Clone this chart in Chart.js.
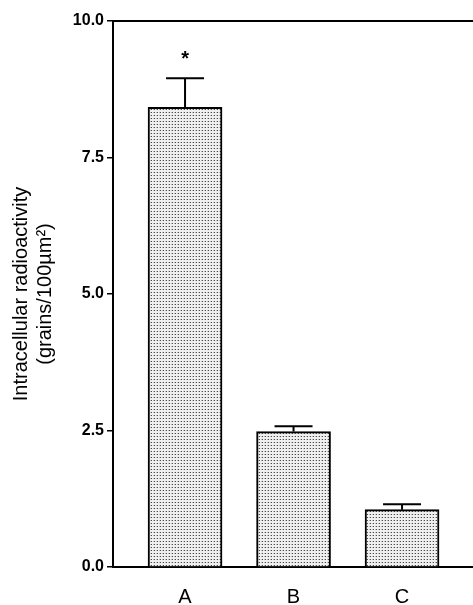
<!DOCTYPE html>
<html>
<head>
<meta charset="utf-8">
<script src="https://cdn.jsdelivr.net/npm/chart.js@4.4.1/dist/chart.umd.min.js"></script>
<style>
html,body{margin:0;padding:0;background:#fff;}
canvas{display:block;}
</style>
</head>
<body>
<canvas id="c" width="473" height="605"></canvas>
<script>
const categories = ['A', 'B', 'C'];
const values = [8.42, 2.48, 1.05];
const errors = [0.53, 0.10, 0.10];
const significance = ['*', '', ''];
const yTicks = [0, 2.5, 5, 7.5, 10];

function makePattern() {
  const p = document.createElement('canvas');
  p.width = 3; p.height = 3;
  const g = p.getContext('2d');
  g.fillStyle = '#efefef';
  g.fillRect(0, 0, 3, 3);
  g.fillStyle = '#4a4a4a';
  g.fillRect(1, 1, 1, 1);
  g.fillStyle = '#bdbdbd';
  g.fillRect(0, 1, 1, 1);
  return document.getElementById('c').getContext('2d').createPattern(p, 'repeat');
}

const errorBarPlugin = {
  id: 'errorBars',
  afterDatasetsDraw(chart) {
    const ctx = chart.ctx;
    const meta = chart.getDatasetMeta(0);
    const ys = chart.scales.y;
    ctx.save();
    ctx.strokeStyle = '#000';
    ctx.lineWidth = 2;
    meta.data.forEach((bar, i) => {
      const x = bar.x;
      const yTop = ys.getPixelForValue(values[i]);
      const yErr = ys.getPixelForValue(values[i] + errors[i]);
      ctx.beginPath();
      ctx.moveTo(x, yTop);
      ctx.lineTo(x, yErr);
      ctx.moveTo(x - 19, yErr);
      ctx.lineTo(x + 19, yErr);
      ctx.stroke();
      if (significance[i]) {
        ctx.fillStyle = '#000';
        ctx.font = 'bold 20px "Liberation Sans", Arial, sans-serif';
        ctx.textAlign = 'center';
        ctx.textBaseline = 'middle';
        ctx.fillText(significance[i], x, yErr - 19);
      }
    });
    const a = chart.chartArea;
    ctx.beginPath();
    ctx.lineWidth = 2;
    ctx.moveTo(a.left, a.top);
    ctx.lineTo(a.right, a.top);
    ctx.stroke();
    ctx.restore();
  }
};

new Chart(document.getElementById('c'), {
  type: 'bar',
  data: {
    datasets: [{
      data: categories.map((c, i) => ({ x: i + 1, y: values[i] })),
      backgroundColor: makePattern(),
      borderColor: '#000',
      borderWidth: 2,
      barThickness: 74
    }]
  },
  options: {
    responsive: false,
    animation: false,
    layout: { padding: { top: 21, right: 0, left: 0, bottom: 0 } },
    plugins: { legend: { display: false }, tooltip: { enabled: false } },
    scales: {
      x: {
        type: 'linear',
        offset: false,
        min: 0.336,
        max: 3.654,
        afterBuildTicks(s) { s.ticks = categories.map((c, i) => ({ value: i + 1 })); },
        afterFit(s) { s.height = 38; },
        grid: { display: false, drawTicks: false },
        border: { display: true, color: '#000', width: 2 },
        ticks: {
          padding: 18,
          color: '#000',
          font: { family: '"Liberation Sans", Arial, sans-serif', size: 20 },
          callback: (v) => categories[Math.round(v) - 1] || ''
        }
      },
      y: {
        min: 0,
        max: 10,
        afterBuildTicks(s) { s.ticks = yTicks.map(v => ({ value: v })); },
        afterFit(s) { s.width = 113; },
        grid: { drawOnChartArea: false, drawTicks: true, tickLength: 6, color: '#000', lineWidth: 1.5 },
        border: { display: true, color: '#000', width: 2 },
        ticks: {
          padding: 3,
          color: '#000',
          font: { family: '"Liberation Sans", Arial, sans-serif', size: 16, weight: 'bold' },
          callback: (v) => v.toFixed(1)
        },
        title: {
          display: true,
          text: ['Intracellular radioactivity', '(grains/100\u00B5m\u00B2)'],
          color: '#000',
          padding: { top: 9, bottom: 0 },
          font: { family: '"Liberation Sans", Arial, sans-serif', size: 20, lineHeight: 1.2 }
        }
      }
    }
  },
  plugins: [errorBarPlugin]
});
</script>
</body>
</html>
